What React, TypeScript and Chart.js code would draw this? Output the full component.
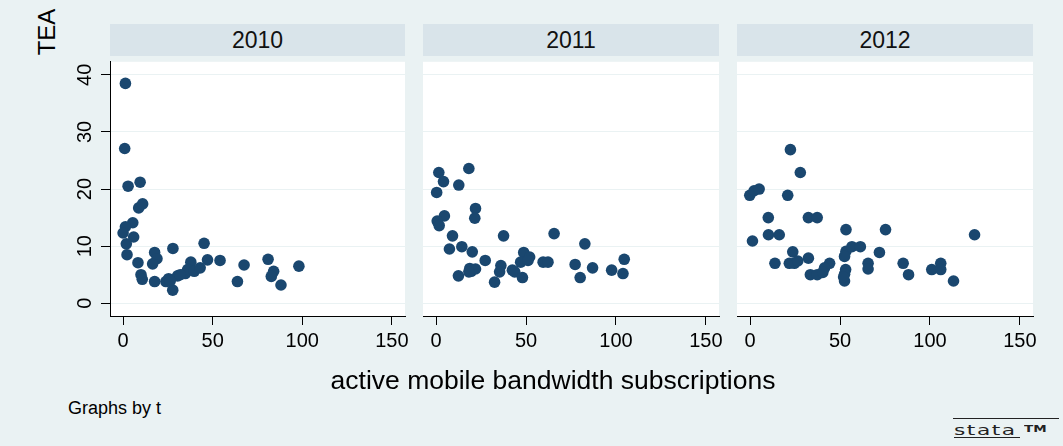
import React, { useEffect, useRef } from "react";
import { Chart, registerables } from "chart.js";

Chart.register(...registerables);

const years = ["2010", "2011", "2012"];
const xTicks = [0, 50, 100, 150];
const yTicks = [0, 10, 20, 30, 40];
const yTitle = "TEA";
const xTitle = "active mobile bandwidth subscriptions";
const note = "Graphs by t";

const x2010 = [1.3, 0.9, 2.8, 9.5, 8.7, 10.9, 5.4, 1.3, 0, 5.9, 1.8, 2.2, 8.3, 17.6, 18.9, 16.5, 27.8, 45.2, 47.1, 54.1, 37.8, 67.5, 80.9, 98.1, 84, 82.7, 88.1, 63.8, 10, 10.7, 17.6, 23.9, 25.4, 27.7, 30.4, 34.7, 36, 39.7, 43, 26.3, 31.9];
const y2010 = [38.5, 27.1, 20.5, 21.2, 16.7, 17.4, 14.1, 13.4, 12.3, 11.6, 10.4, 8.5, 7.1, 8.9, 7.8, 6.9, 9.6, 10.5, 7.6, 7.5, 7.2, 6.7, 7.7, 6.5, 5.6, 4.7, 3.2, 3.8, 5.0, 4.2, 3.8, 3.8, 4.3, 2.3, 4.8, 5.2, 5.9, 5.6, 6.2, 3.9, 5.0];

const x2011 = [18.2, 1.5, 4.1, 12.6, 0.3, 21.9, 21.5, 4.6, 0.6, 1.7, 9.1, 37.5, 65.6, 7.4, 14.3, 20.1, 82.7, 104.6, 27.3, 48.7, 52, 47, 51.1, 59.5, 62.2, 77.3, 87, 97.6, 103.9, 80.1, 36, 35.3, 42.4, 43.7, 48, 32.5, 12.4, 18.7, 19.5, 21.9, 18.2];
const y2011 = [23.6, 22.9, 21.3, 20.7, 19.4, 16.6, 14.9, 15.3, 14.4, 13.6, 11.8, 11.8, 12.2, 9.5, 9.9, 9.0, 10.4, 7.7, 7.5, 8.9, 8.1, 7.2, 7.5, 7.2, 7.2, 6.8, 6.2, 5.8, 5.2, 4.5, 6.6, 5.5, 5.8, 5.5, 4.5, 3.7, 4.8, 6.1, 5.6, 6.0, 5.5];

const x2012 = [22.4, 27.9, -0.2, 2.2, 5.0, 20.9, 10.1, 32.4, 37.3, 53.3, 75.3, 124.8, 10.2, 16.2, 1.3, 23.7, 24.6, 21.8, 26.5, 32.4, 13.8, 44.2, 41.4, 33.5, 37.3, 40.4, 53.3, 52.5, 56.6, 61.3, 71.9, 53.1, 52.5, 52.5, 65.6, 65.6, 85.1, 88.1, 101, 106, 106, 113.1, 52];
const y2012 = [26.9, 22.9, 18.9, 19.7, 20.0, 18.9, 15.0, 15.0, 15.0, 12.9, 12.9, 12.0, 12.0, 12.0, 10.9, 9.0, 7.0, 7.0, 7.4, 7.9, 7.0, 7.0, 6.2, 5.0, 5.0, 5.4, 9.1, 8.2, 9.9, 9.9, 8.9, 5.9, 5.1, 3.9, 7.0, 6.0, 7.0, 5.0, 5.9, 7.0, 5.9, 3.9, 4.6];

const seriesX = [x2010, x2011, x2012];
const seriesY = [y2010, y2011, y2012];

const BG = "#EAF2F3";
const STRIP = "#D9E4EA";
const MARK = "#1A476F";
const FONT = '"Liberation Sans", Arial, Helvetica, sans-serif';

const panelLefts = [110, 423, 737];
const panelWidths = [295, 296, 296];
const PLOT_TOP = 56;
const PLOT_H = 260;
const AXW = 60;
const AXH = 60;
const RPAD = 20;

function Panel({ idx }: { idx: number }) {
  const ref = useRef<HTMLCanvasElement | null>(null);
  const showY = idx === 0;
  useEffect(() => {
    if (!ref.current) return;
    const xs = seriesX[idx];
    const ys = seriesY[idx];
    const bgPlugin = {
      id: "bgfill",
      beforeDraw(chart: any) {
        const { ctx, chartArea } = chart;
        ctx.save();
        ctx.fillStyle = "#ffffff";
        ctx.fillRect(chartArea.left, chartArea.top, chartArea.right - chartArea.left, chartArea.bottom - chartArea.top);
        ctx.restore();
      },
    };
    const yLabelPlugin = {
      id: "ylabels",
      afterDraw(chart: any) {
        if (!showY) return;
        const { ctx, chartArea, scales } = chart;
        ctx.save();
        ctx.font = `20px ${FONT}`;
        ctx.fillStyle = "#000";
        ctx.textAlign = "center";
        ctx.textBaseline = "alphabetic";
        yTicks.forEach((v) => {
          const py = scales.y.getPixelForValue(v);
          ctx.save();
          ctx.translate(chartArea.left - 19, py);
          ctx.rotate(-Math.PI / 2);
          ctx.fillText(String(v), 0, 0);
          ctx.restore();
        });
        ctx.restore();
      },
    };
    const chart = new Chart(ref.current, {
      type: "scatter",
      data: {
        datasets: [
          {
            data: xs.map((x, i) => ({ x, y: ys[i] })),
            backgroundColor: MARK,
            borderColor: MARK,
            borderWidth: 0,
            pointRadius: 5.8,
            pointHoverRadius: 5.8,
          },
        ],
      },
      options: {
        animation: false,
        responsive: false,
        maintainAspectRatio: false,
        events: [],
        layout: { padding: { left: 0, right: RPAD, top: 0, bottom: 0 } },
        plugins: { legend: { display: false }, tooltip: { enabled: false } },
        scales: {
          x: {
            type: "linear",
            min: -7.3,
            max: 157.3,
            afterBuildTicks: (s: any) => {
              s.ticks = xTicks.map((v) => ({ value: v }));
            },
            afterFit: (s: any) => {
              s.height = AXH;
            },
            grid: { drawOnChartArea: false, drawTicks: true, tickLength: 9, tickColor: "#000", color: "#000", lineWidth: 1 },
            border: { display: true, color: "#000", width: 1 },
            ticks: {
              autoSkip: false,
              maxRotation: 0,
              minRotation: 0,
              padding: 4,
              color: "#000",
              font: { family: FONT, size: 20 },
              callback: (v: any) => String(v),
            },
          },
          y: {
            type: "linear",
            min: -2.23,
            max: 42.28,
            afterBuildTicks: (s: any) => {
              s.ticks = yTicks.map((v) => ({ value: v }));
            },
            afterFit: (s: any) => {
              s.width = AXW;
            },
            grid: { color: BG, lineWidth: 1, drawTicks: showY, tickLength: 9, tickColor: "#000" },
            border: { display: showY, color: "#000", width: 1 },
            ticks: { display: false },
          },
        },
      },
      plugins: [bgPlugin, yLabelPlugin],
    } as any);
    return () => chart.destroy();
  }, [idx]);
  const w = AXW + panelWidths[idx] + RPAD;
  const h = PLOT_H + AXH;
  return (
    <canvas
      ref={ref}
      width={w}
      height={h}
      style={{ position: "absolute", left: panelLefts[idx] - AXW, top: PLOT_TOP, width: w, height: h }}
    />
  );
}

export default function App() {
  return (
    <div style={{ position: "fixed", left: 0, top: 0, width: 1063, height: 446, background: BG, overflow: "hidden", fontFamily: FONT, color: "#000" }}>
      {years.map((yr, i) => (
        <div
          key={yr}
          style={{
            position: "absolute",
            left: panelLefts[i],
            top: 24,
            width: panelWidths[i],
            height: 32,
            background: STRIP,
            fontSize: 23,
            lineHeight: "32px",
            textAlign: "center",
            color: "#111",
          }}
        >
          {yr}
        </div>
      ))}
      {years.map((yr, i) => (
        <Panel key={"p" + yr} idx={i} />
      ))}
      <div
        style={{
          position: "absolute",
          left: 47,
          top: 32,
          fontSize: 24,
          lineHeight: "24px",
          whiteSpace: "nowrap",
          transform: "translate(-50%, -50%) rotate(-90deg)",
        }}
      >
        {yTitle}
      </div>
      <div
        style={{
          position: "absolute",
          left: 553,
          top: 380,
          fontSize: 26.5,
          lineHeight: "30px",
          whiteSpace: "nowrap",
          transform: "translate(-50%, -50%)",
        }}
      >
        {xTitle}
      </div>
      <div style={{ position: "absolute", left: 68, top: 398, fontSize: 18, lineHeight: "20px", whiteSpace: "nowrap" }}>{note}</div>
      <div style={{ position: "absolute", left: 953, top: 418, width: 106, borderTop: "1.5px solid #222" }} />
      <div
        style={{
          position: "absolute",
          left: 954,
          top: 421,
          width: 66,
          height: 16,
          borderBottom: "1.5px solid #222",
          overflow: "visible",
        }}
      >
        <span
          style={{
            display: "inline-block",
            fontFamily: '"DejaVu Sans", sans-serif',
            fontSize: 14,
            lineHeight: "16px",
            letterSpacing: 1,
            transform: "scale(1.55, 1)",
            transformOrigin: "left center",
            color: "#222",
          }}
        >
          stata
        </span>
      </div>
      <div
        style={{
          position: "absolute",
          left: 1024,
          top: 424,
          fontSize: 9,
          lineHeight: "10px",
          color: "#222",
          fontFamily: '"DejaVu Sans", sans-serif',
          fontWeight: "bold",
          transform: "scale(1.5, 1)",
          transformOrigin: "left center",
        }}
      >
        TM
      </div>
    </div>
  );
}
